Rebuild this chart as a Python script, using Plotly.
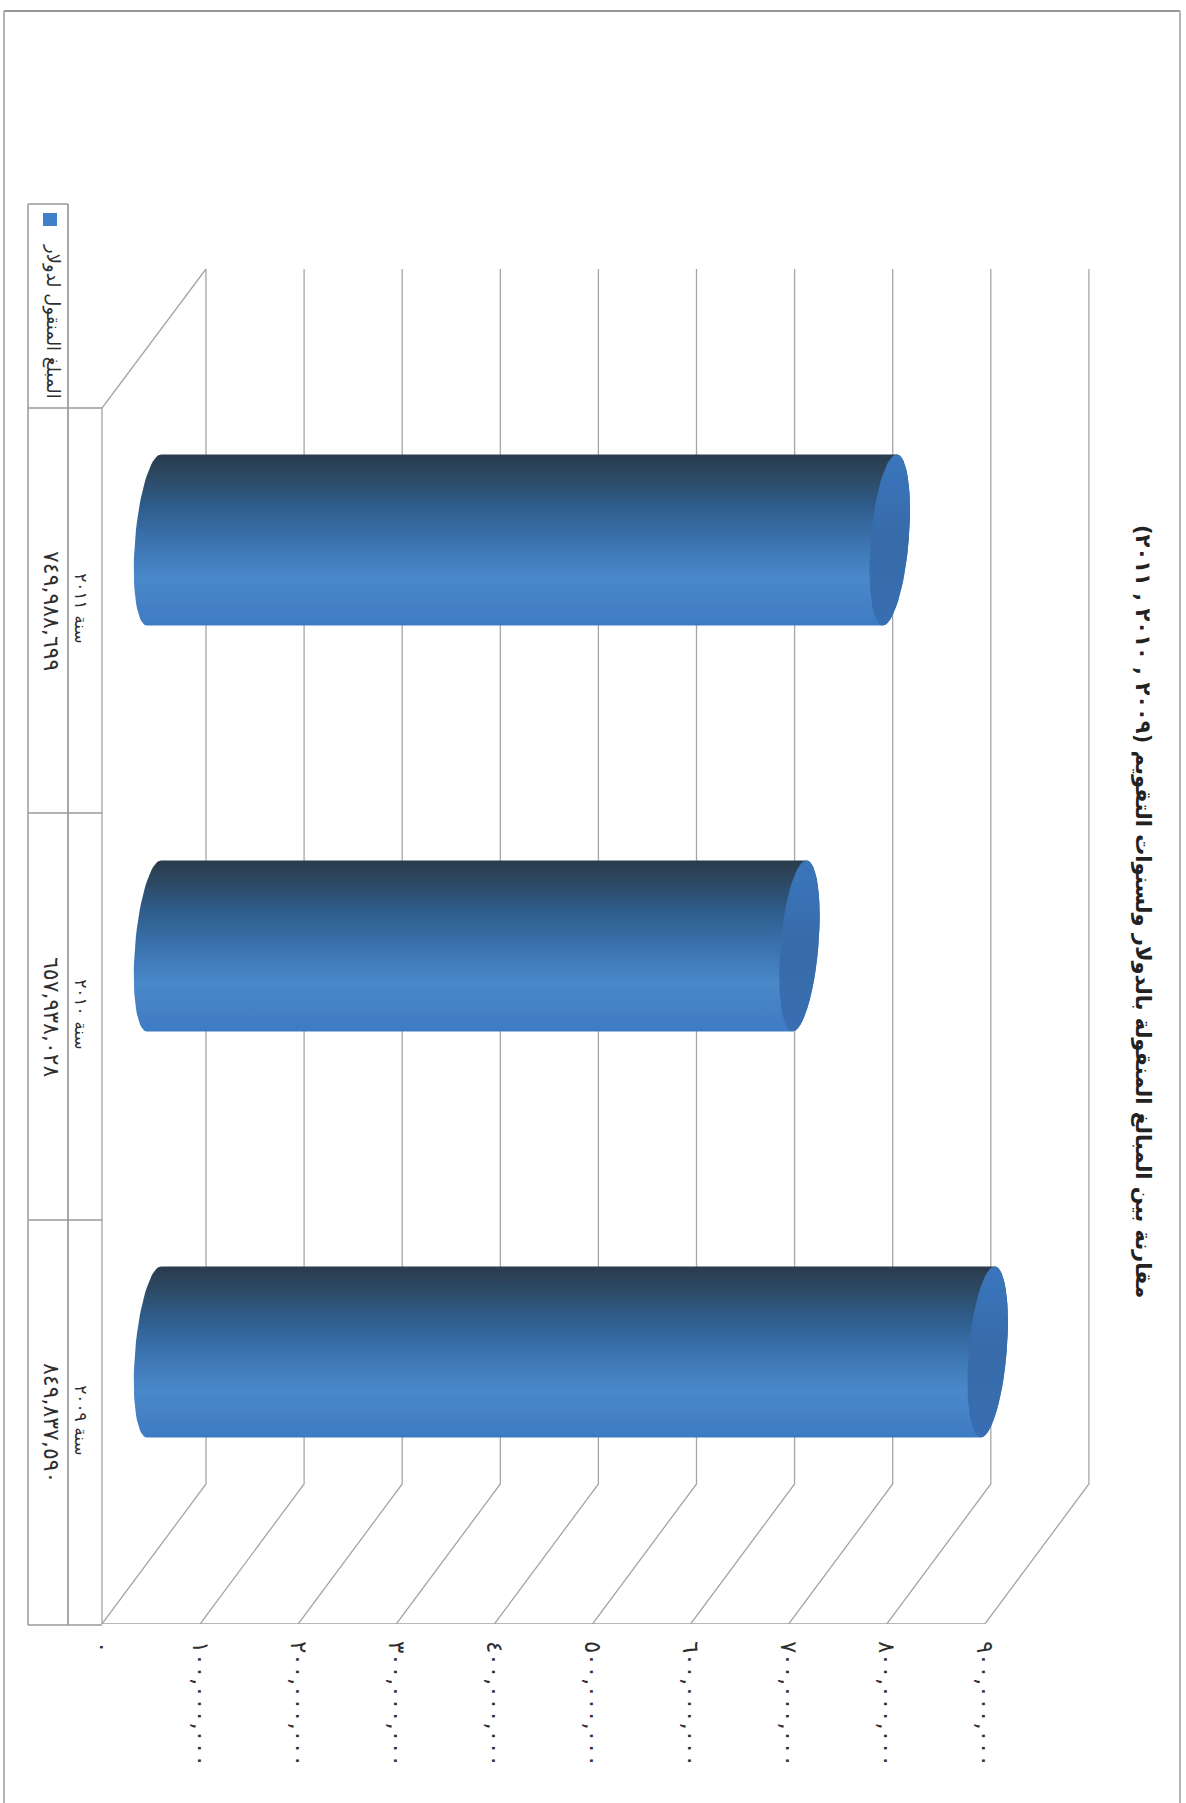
import numpy as np
import plotly.graph_objects as go

W, H = 1186, 1803

# ---- data ----
categories = ["سنة ٢٠٠٩", "سنة ٢٠١٠", "سنة ٢٠١١"]
amounts = [849837590, 657938028, 749988699]
amount_labels = ["٨٤٩,٨٣٧,٥٩٠", "٦٥٧,٩٣٨,٠٢٨", "٧٤٩,٩٨٨,٦٩٩"]
value_ticks = [0, 100000000, 200000000, 300000000, 400000000,
               500000000, 600000000, 700000000, 800000000, 900000000]
value_tick_labels = ["٠", "١٠٠,٠٠٠,٠٠٠", "٢٠٠,٠٠٠,٠٠٠", "٣٠٠,٠٠٠,٠٠٠", "٤٠٠,٠٠٠,٠٠٠",
                     "٥٠٠,٠٠٠,٠٠٠", "٦٠٠,٠٠٠,٠٠٠", "٧٠٠,٠٠٠,٠٠٠", "٨٠٠,٠٠٠,٠٠٠", "٩٠٠,٠٠٠,٠٠٠"]
series_name = "المبلغ المنقول لدولار"
title_text = "مقارنة بين المبالغ المنقولة بالدولار ولسنوات التقويم (٢٠٠٩ , ٢٠١٠ , ٢٠١١)\u200f"

# ---- geometry of the pseudo-3D box ----
X0_PX, UNIT_PX = 102.0, 98.1          # pixel of value 0 on the front edge, pixels per 100M
BASE_PX, CAT_PX, CAT0_PX = 1624.0, 406.0, 1423.0
per_px = 1e8 / UNIT_PX
x_range = [-X0_PX * per_px, (W - X0_PX) * per_px]
y_range = [(CAT0_PX - BASE_PX) / CAT_PX, CAT0_PX / CAT_PX]
DEPTH_X = 104 * per_px
DEPTH_Y = 140 / CAT_PX
BAR_X = 52 * per_px
BAR_Y = 71 / CAT_PX
BAR_B = 85.5 / CAT_PX
FLOOR = y_range[0]
WALL_TOP = y_range[0] + (BASE_PX - 269) / CAT_PX
FRONT_TOP = y_range[0] + (BASE_PX - 408) / CAT_PX
GRID = "#a6a6a6"
FONT = "DejaVu Sans"
TXT = "#2f2f2f"

fig = go.Figure()


def line(xs, ys, width=1.3, color=GRID):
    fig.add_trace(go.Scatter(x=xs, y=ys, mode="lines", line=dict(color=color, width=width),
                             hoverinfo="skip", showlegend=False))


# back wall and floor lines
for v in value_ticks:
    line([v, v + DEPTH_X, v + DEPTH_X],
         [FLOOR, FLOOR + DEPTH_Y, WALL_TOP])
# side wall
line([0, 0, DEPTH_X], [FLOOR, FRONT_TOP, WALL_TOP])
# floor front edge
line([0, value_ticks[-1]], [FLOOR, FLOOR], 1.6, "#a0a0a0")

BODY = [[0, "#2a3b4c"], [0.12, "#2c4862"], [0.3, "#2f5d8b"], [0.5, "#3a72ae"],
        [0.72, "#4a88ca"], [0.9, "#447fc4"], [1, "#3c7bc4"]]
CAP = [[0, "#3a76bd"], [0.5, "#376ba9"], [1, "#386eb2"]]
a = 19 * per_px
k_l, k_r = 7 * per_px, 7 * per_px

for i, (name, val) in enumerate(zip(categories, amounts)):
    cy = i + BAR_Y
    c0 = BAR_X
    c1 = val + BAR_X
    tl = np.radians(np.linspace(90, 270, 40))
    tr = np.radians(np.linspace(270, 450, 40))
    xs = np.r_[c0 + a * np.cos(tl) + k_l * np.sin(tl), c1 + a * np.cos(tr) + k_r * np.sin(tr)]
    ys = np.r_[cy + BAR_B * np.sin(tl), cy + BAR_B * np.sin(tr)]
    fig.add_trace(go.Scatter(x=xs, y=ys, mode="lines", fill="toself", line=dict(width=0),
                             fillgradient=dict(type="vertical", colorscale=BODY,
                                               start=cy + BAR_B, stop=cy - BAR_B),
                             name=name, text=[amount_labels[i]] * len(xs),
                             hoverinfo="text", showlegend=False))
    t = np.radians(np.linspace(0, 360, 80))
    fig.add_trace(go.Scatter(x=c1 + a * np.cos(t) + k_r * np.sin(t), y=cy + BAR_B * np.sin(t),
                             mode="lines", fill="toself", line=dict(width=0),
                             fillgradient=dict(type="vertical", colorscale=CAP,
                                               start=cy + BAR_B, stop=cy - BAR_B),
                             hoverinfo="skip", showlegend=False))


def px(x):
    return x / W


def py(y):
    return 1 - y / H


shapes = []


def seg(x0, y0, x1, y1, color="#9a9a9a", width=1.5):
    shapes.append(dict(type="line", xref="paper", yref="paper", x0=px(x0), y0=py(y0), x1=px(x1), y1=py(y1),
                       line=dict(color=color, width=width)))


# page frame
seg(4, 11, 4, H, "#b4b4b4", 2)
seg(4, 11, 1180, 11, "#969696", 2)
seg(1180, 11, 1180, H, "#b4b4b4", 2)
# data table
seg(28, 204, 68, 204)
seg(28, 204, 28, 1625)
seg(68, 204, 68, 1625, "#8a8a8a")
seg(28, 408, 102, 408)
seg(28, 813, 102, 813)
seg(28, 1220, 102, 1220)
seg(28, 1625, 102, 1625)
# legend key
shapes.append(dict(type="rect", xref="paper", yref="paper", x0=px(43), x1=px(57), y0=py(213), y1=py(226),
                   fillcolor="#3f80c8", line=dict(width=0)))

annotations = [
    dict(text=title_text, xref="paper", yref="paper", x=px(1143), y=py(911), showarrow=False,
         textangle=90, xanchor="center", yanchor="middle",
         font=dict(family=FONT, size=21, color="#222222", weight="bold")),
    dict(text=series_name, xref="paper", yref="paper", x=px(53), y=py(321), showarrow=False,
         textangle=90, xanchor="center", yanchor="middle",
         font=dict(family=FONT, size=18, color=TXT)),
]
for i, lab in enumerate(amount_labels):
    annotations.append(dict(text=lab, xref="paper", yref="y", x=px(52), y=i, showarrow=False,
                            textangle=90, xanchor="center", yanchor="middle",
                            font=dict(family=FONT, size=22, color=TXT)))

fig.update_layout(
    width=W, height=H, margin=dict(l=0, r=0, t=0, b=0),
    paper_bgcolor="white", plot_bgcolor="rgba(0,0,0,0)", showlegend=False,
    shapes=shapes, annotations=annotations,
    xaxis=dict(range=x_range, domain=[0, 1], tickmode="array", tickvals=value_ticks, ticktext=value_tick_labels,
               tickangle=90, showgrid=False, zeroline=False, showline=False, ticks="", ticklabelstandoff=16,
               tickfont=dict(family=FONT, size=23, color=TXT)),
    yaxis=dict(range=y_range, domain=[1 - BASE_PX / H, 1], anchor="free", position=X0_PX / W,
               tickmode="array", tickvals=[0, 1, 2], ticktext=categories, tickangle=90,
               showgrid=False, zeroline=False, showline=False, ticks="", ticklabelstandoff=10,
               tickfont=dict(family=FONT, size=17, color=TXT)),
)

fig.write_html("out.html", config={"displayModeBar": False}, post_script="document.body.style.margin='0';")
